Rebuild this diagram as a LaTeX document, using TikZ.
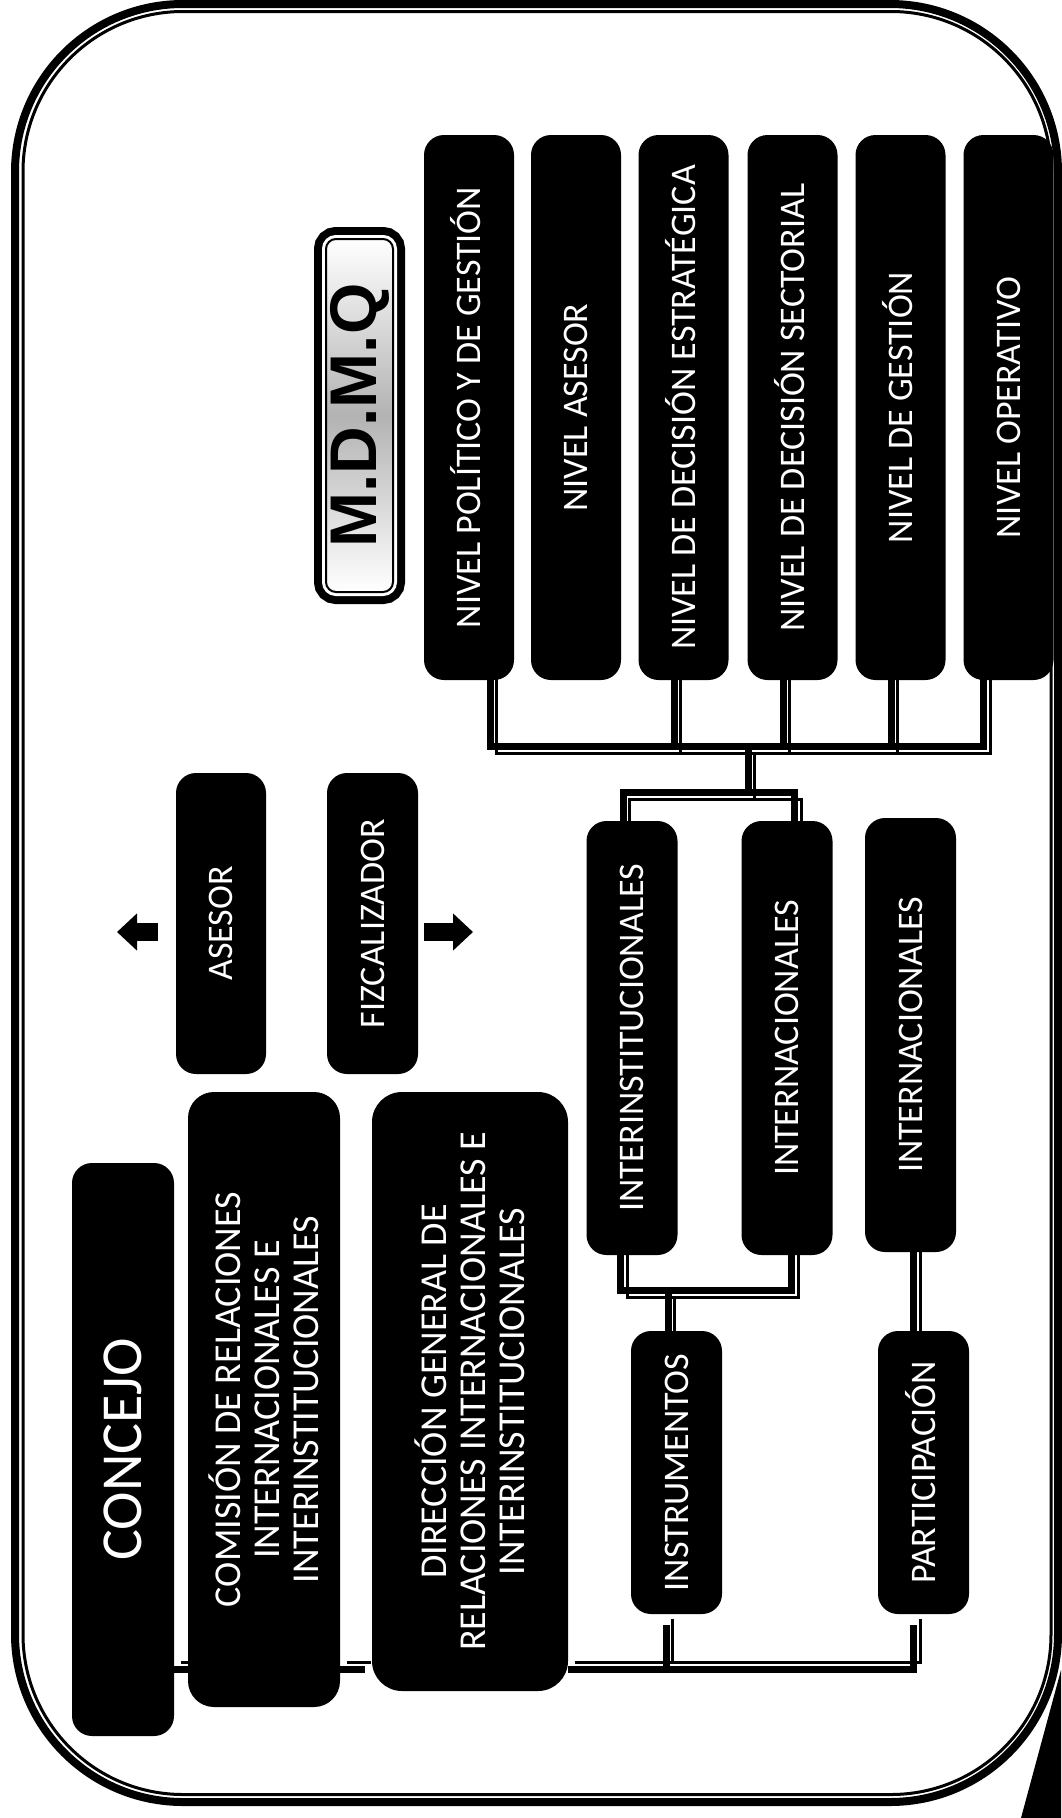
\documentclass[tikz,border=0pt]{standalone}
\usepackage{fontspec}
\setmainfont{Carlito}
\newfontfamily\mdmqfont{Liberation Sans}
\usetikzlibrary{arrows.meta}

\begin{document}
\begin{tikzpicture}[
    x=1pt,y=-1pt,
    orgbox/.style={
      rectangle,fill=black,text=white,rotate=90,rounded corners=20pt,
      inner sep=0pt,anchor=center,align=center,
      font=\fontsize{36}{39}\selectfont
    },
    nivelbox/.style={
      orgbox,minimum width=545pt,minimum height=90pt,
      text height=23pt,text depth=0pt
    },
    interbox/.style={
      orgbox,minimum width=434pt,minimum height=91pt,
      text height=23pt,text depth=0pt
    },
    smallbox/.style={
      orgbox,minimum width=283pt,minimum height=91pt,
      text height=23pt,text depth=0pt
    },
    wiredown/.style={
      line width=7pt,
      postaction={draw,line width=3pt,transform canvas={xshift=6.5pt,yshift=-7pt}}
    },
    wireup/.style={
      line width=7pt,
      postaction={draw,line width=3pt,transform canvas={xshift=6.5pt,yshift=6.5pt}}
    },
    blockarrow/.style={
      line width=18pt,-{Triangle[length=20pt,width=36pt]}
    }
  ]
    \useasboundingbox (0,0) rectangle (1061,1818);

    % outer frame
    \draw[line width=8pt,rounded corners=168pt] (15,4) rectangle (1058,1802);
    \draw[line width=3pt,rounded corners=160pt] (23,11.5) rectangle (1051,1794.5);
    \fill (1021,1818) -- (1061,1670) -- (1061,1818) -- cycle;

    % title
    \node[
      rectangle,rotate=90,anchor=center,inner sep=0pt,rounded corners=10pt,
      minimum width=353pt,minimum height=67pt,
      draw=black,line width=2pt,top color=white,bottom color=white,middle color=gray!60,
      preaction={draw=black,line width=24pt},
      preaction={draw=white,line width=8pt},
      font=\mdmqfont\bfseries\fontsize{66}{66}\selectfont
    ] (mdmq) at (359.5,415.5) {M.D.M.Q};

    % levels
    \node[nivelbox] (politico) at (469,407.5) {NIVEL POLÍTICO Y DE GESTIÓN};
    \node[nivelbox] (asesornivel) at (576,407.5) {NIVEL ASESOR};
    \node[nivelbox] (estrategica) at (683.5,407.5) {NIVEL DE DECISIÓN ESTRATÉGICA};
    \node[nivelbox] (sectorial) at (792.5,407.5) {NIVEL DE DECISIÓN SECTORIAL};
    \node[nivelbox] (gestion) at (900.5,407.5) {NIVEL DE GESTIÓN};
    \node[nivelbox] (operativo) at (1008.5,407.5) {NIVEL OPERATIVO};

    % council column
    \node[orgbox,minimum width=573pt,minimum height=102pt,
      font=\fontsize{58}{58}\selectfont] (concejo) at (123,1449.5) {CONCEJO};
    \node[orgbox,minimum width=615pt,minimum height=152pt,rounded corners=26pt,
      font=\fontsize{38}{39}\selectfont] (comision) at (264,1399.5)
      {COMISIÓN DE RELACIONES\\INTERNACIONALES E\\INTERINSTITUCIONALES};
    \node[orgbox,minimum width=599pt,minimum height=196pt,rounded corners=30pt,
      font=\fontsize{38}{39}\selectfont] (direccion) at (470,1391.5)
      {DIRECCIÓN GENERAL DE\\RELACIONES INTERNACIONALES E\\INTERINSTITUCIONALES};
    \node[orgbox,minimum width=301pt,minimum height=90pt] (asesor) at (221,923.5) {ASESOR};
    \node[orgbox,minimum width=301pt,minimum height=91pt] (fiscal) at (372.5,923.5) {FIZCALIZADOR};

    % relations
    \node[interbox] (interinst) at (632,1038) {INTERINSTITUCIONALES};
    \node[interbox] (internac) at (787,1038) {INTERNACIONALES};
    \node[interbox] (internacdos) at (910.5,1035) {INTERNACIONALES};
    \node[smallbox] (instrumentos) at (676.5,1472.5) {INSTRUMENTOS};
    \node[smallbox] (participacion) at (923.5,1472.5) {PARTICIPACIÓN};

    \coordinate (nivelbus) at (748,746.5);
    \coordinate (interbus) at (748,792.5);
    \coordinate (lowerbus) at (668,1290);
    \coordinate (basebus) at (666,1669);
    \coordinate (asesortip) at (117,932);
    \coordinate (fiscaltip) at (473,932);

    \draw[wiredown] ([xshift=21pt,yshift=8pt]politico.west) |- (nivelbus)
      -| ([xshift=-25pt,yshift=8pt]operativo.west);
    \draw[wiredown] ([xshift=-9.5pt,yshift=8pt]estrategica.west) |- (nivelbus);
    \draw[wiredown] ([xshift=-9.5pt,yshift=8pt]sectorial.west) |- (nivelbus);
    \draw[wiredown] ([xshift=-9.5pt,yshift=8pt]gestion.west) |- (nivelbus);
    \draw[wiredown] (nivelbus) -- (interbus);
    \draw[wiredown] ([xshift=-9pt]interinst.east) |- (interbus)
      -| ([xshift=7.5pt]internac.east);
    \draw[wiredown] ([xshift=-11.5pt,yshift=8pt]interinst.west) |- (lowerbus)
      -| ([xshift=4.5pt,yshift=8pt]internac.west);
    \draw[wiredown] (lowerbus) -- ([xshift=-8.5pt]instrumentos.east);
    \draw[wiredown] ([xshift=3pt,yshift=8pt]internacdos.west) -- ([xshift=-10pt]participacion.east);

    \draw[wireup] (concejo.south |- basebus) -- (comision.north |- basebus);
    \draw[wireup] (comision.south |- basebus) -- ([xshift=-7pt]direccion.north |- basebus);
    \draw[wireup] (direccion.south |- basebus) -| ([xshift=-10pt,yshift=-11pt]participacion.west);
    \draw[wireup] ([xshift=-10.5pt,yshift=-11pt]instrumentos.west) |- (basebus);

    \draw[blockarrow] ([xshift=-18pt,yshift=-8.5pt]asesor.north) -- (asesortip);
    \draw[blockarrow] ([xshift=6pt,yshift=-8.5pt]fiscal.south) -- (fiscaltip);
  \end{tikzpicture}
\end{document}
